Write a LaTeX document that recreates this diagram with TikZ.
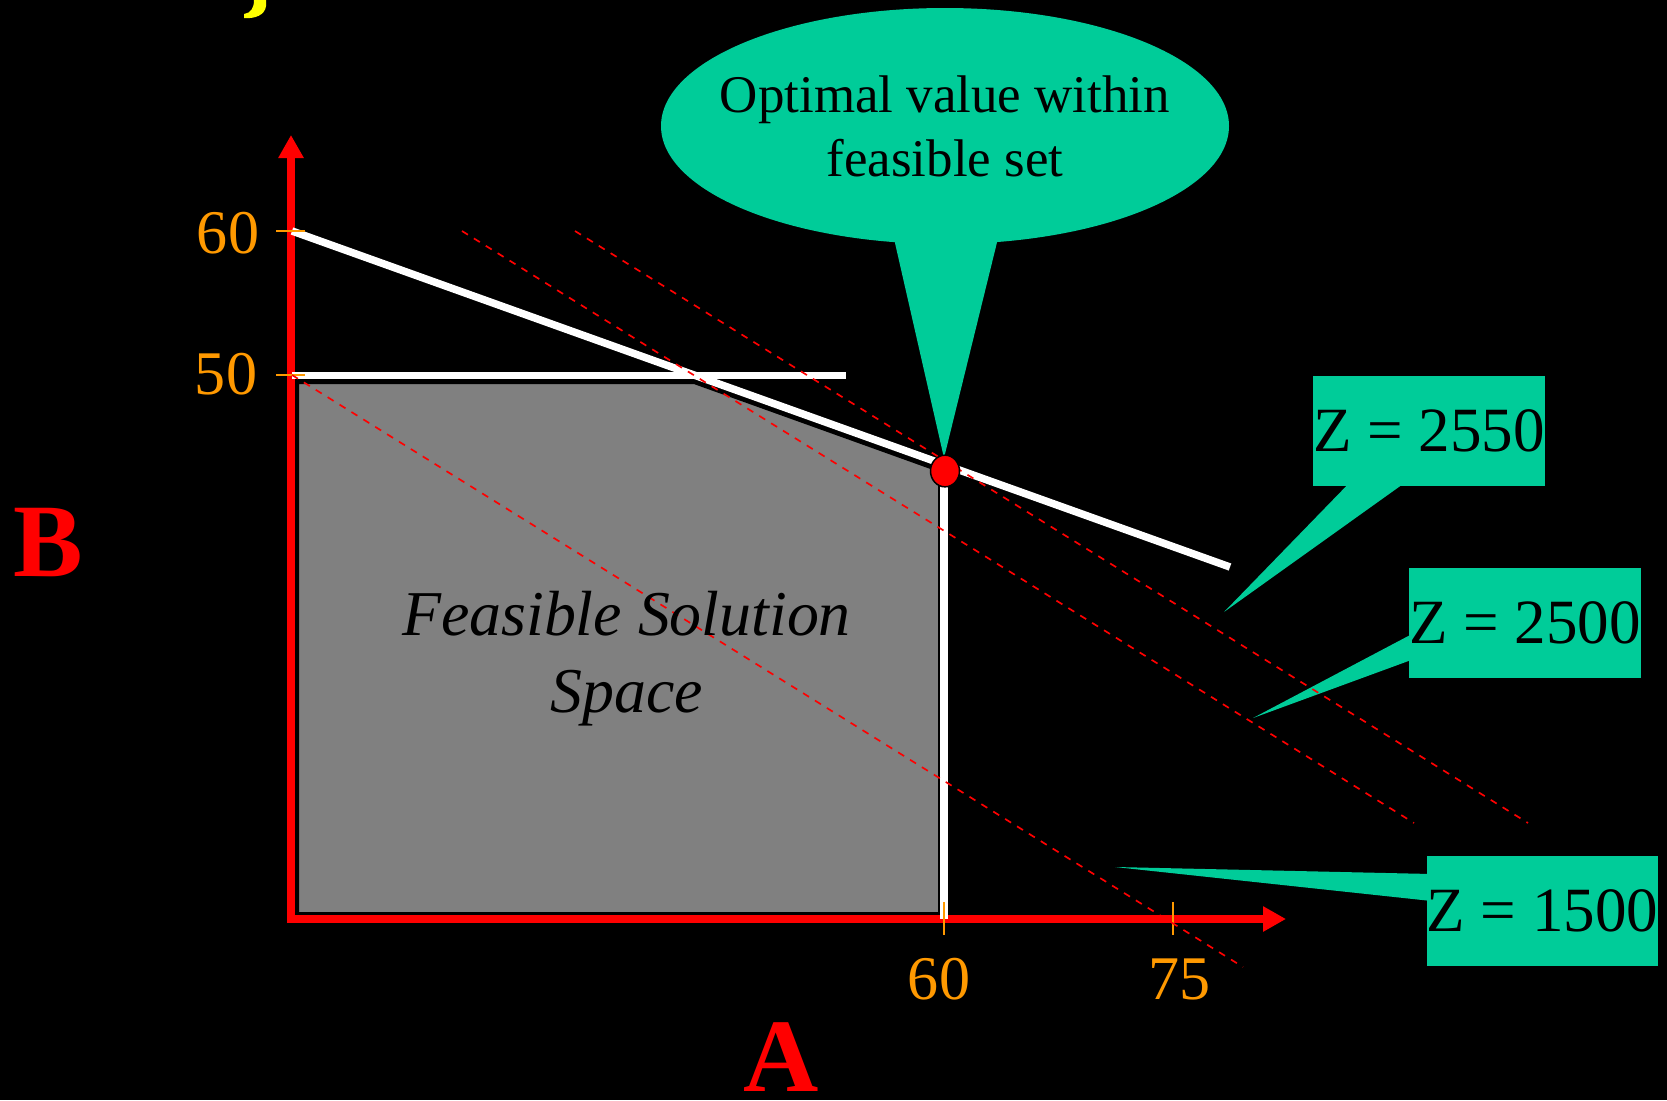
\documentclass[tikz,border=0pt]{standalone}
\usepackage{fontspec}
\setmainfont{Liberation Serif}
\usepackage{tikz}
\usetikzlibrary{
  arrows.meta,
  positioning,
  calc,
  shapes.geometric,
  backgrounds
}
\definecolor{CalloutGreen}{RGB}{0,204,153}
\definecolor{TickOrange}{RGB}{255,153,0}
\definecolor{RegionGray}{RGB}{128,128,128}
\definecolor{TitleYellow}{RGB}{255,255,0}
\tikzset{
  axisline/.style={line width=2.4mm,draw=red,{Triangle[length=6.9mm,width=7.2mm]}-{Triangle[length=6.9mm,width=7.2mm]}},
  boundary/.style={line width=2.25mm,draw=white},
  tickmark/.style={line width=0.6mm,draw=TickOrange},
  ticklabel/.style={text=TickOrange,inner sep=0pt,font=\fontsize{53}{60}\selectfont},
  axislabel/.style={text=red,inner sep=0pt,font=\fontsize{89}{100}\selectfont\bfseries},
  isoprofit/.style={draw=red,line width=0.5mm,dash pattern=on 2.1mm off 2.1mm},
  feasregion/.style={fill=RegionGray,draw=black,line width=0.6mm},
  regionlabel/.style={align=center,inner sep=0pt,font=\fontsize{54.5}{65.7}\selectfont\itshape},
  optdot/.style={ellipse,fill=red,draw=black,line width=0.45mm,minimum width=8.7mm,minimum height=9.5mm,inner sep=0pt},
  bubble/.style={ellipse,fill=CalloutGreen,minimum width=170.4mm,minimum height=70.8mm,inner sep=0pt},
  bubbletext/.style={align=center,inner sep=0pt,font=\fontsize{45.2}{54.6}\selectfont},
  zbox/.style={fill=CalloutGreen,minimum width=67.8mm,minimum height=33mm,inner sep=0pt,font=\fontsize{53.8}{60}\selectfont},
  pointer/.style={fill=CalloutGreen}
}
\begin{document}
\begin{tikzpicture}[x=0.3mm,y=-0.3mm]
\useasboundingbox (0,0) rectangle (1667,1100);
\fill[TitleYellow] (254,0) -- (266,0) -- (266,6) .. controls (265,15) and (255,19) .. (244,18) -- (244,14) .. controls (251,13) and (254,8) .. (254,0) -- cycle;

\coordinate (O) at (291,919);
\coordinate (ytip) at (291,135);
\coordinate (xtip) at (1286,919);

\draw[feasregion] (298,383) -- (694,383) -- (939,471) -- (939,913) -- (298,913) -- cycle;
\draw[axisline] (ytip) -- (O) -- (xtip);

\draw[boundary] (292,231) -- (1230,567);
\draw[boundary] (292,375.5) -- (846,375.5);
\draw[boundary] (944,471) -- (944,919);

\draw[tickmark] (276,231) -- (305,231);
\draw[tickmark] (276,375) -- (305,375);
\draw[tickmark] (944,902) -- (944,935);
\draw[tickmark] (1173,902) -- (1173,935);

\node[ticklabel] (y60) at (228,233.5) {60};
\node[ticklabel] (y50) at (226,374) {50};
\node[ticklabel] (x60) at (939,979.5) {60};
\node[ticklabel] (x75) at (1179.5,979.5) {75};
\node[axislabel] (alab) at (781,1057) {A};
\node[axislabel] (blab) at (48.5,542.5) {B};

\draw[isoprofit] (292,375) -- (1243,967);
\draw[isoprofit] (462,231) -- (1414,823);
\draw[isoprofit] (575,231) -- (1528,823);

\node[regionlabel] (feas) at (626.5,659) {Feasible Solution\\Space};

\coordinate (tip) at (944,458);
\node[optdot] (dot) at (945,471) {};

\node[bubble] (bub) at (945,126) {};
\node[bubbletext] (bubtxt) at (bub.center) {Optimal value within\\feasible set};

\node[zbox] (z2550) at (1429,431) {Z = 2550};
\node[zbox] (z2500) at (1525,623) {Z = 2500};
\node[zbox] (z1500) at (1542.5,911) {Z = 1500};
\coordinate (t2550) at (1224,612);
\coordinate (t2500) at (1253,718);
\coordinate (t1500) at (1115,867);

\begin{scope}[on background layer]
\fill[black] (0,0) rectangle (1667,1100);
\fill[pointer] ($(bub.south)+(-52,-10)$) -- ($(bub.south)+(54,-10)$) -- (tip) -- cycle;
\fill[pointer] ($(z2550.south west)+(38,-5)$) -- ($(z2550.south west)+(94,-5)$) -- (t2550) -- cycle;
\fill[pointer] ($(z2500.west)+(5,10)$) -- ($(z2500.west)+(5,36)$) -- (t2500) -- cycle;
\fill[pointer] ($(z1500.west)+(5,-37)$) -- ($(z1500.west)+(5,-10)$) -- (t1500) -- cycle;
\end{scope}
\end{tikzpicture}
\end{document}
